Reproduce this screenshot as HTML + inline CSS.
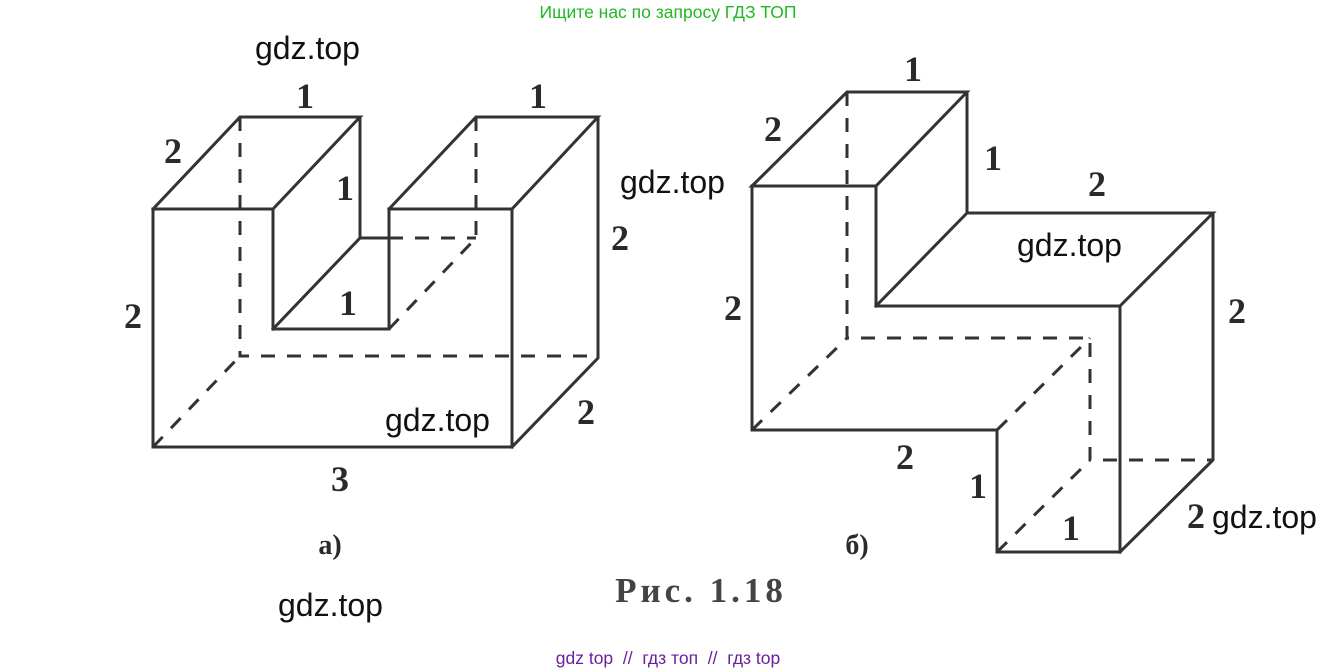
<!DOCTYPE html>
<html><head><meta charset="utf-8"><style>
body{margin:0;width:1337px;height:672px;background:#fff;overflow:hidden}
svg{position:absolute;left:0;top:0}
.n{font-family:"Liberation Serif",serif;font-weight:bold;font-size:36px;fill:#2a2a2a;text-anchor:middle}
.w{font-family:"Liberation Sans",sans-serif;font-size:32px;fill:#111}
</style></head><body>
<svg width="1337" height="672" viewBox="0 0 1337 672">
<text x="668" y="18" text-anchor="middle" style="font-family:'Liberation Sans',sans-serif;font-size:17.5px;fill:#22b822">Ищите нас по запросу ГДЗ ТОП</text>
<g stroke="#333" stroke-width="3" fill="none" stroke-linecap="square">
<path d="M153,447 L153,209 L273,209 L273,329 L389,329 L389,209 L512,209 L512,447 Z"/>
<path d="M153,209 L240,117 L360,117 L273,209 M360,117 L360,238 L389,238 M273,329 L360,238"/>
<path d="M389,209 L476,117 L598,117 L512,209 M598,117 L598,358 L512,447"/>
<path d="M752,186 L847,92 L967,92 L876,186 Z M752,186 L752,430 L997,430 L997,552 L1120,552 L1120,306 L876,306 L876,186"/>
<path d="M967,92 L967,213 L1213,213 L1120,306 M876,306 L967,213 M1213,213 L1213,460 L1120,552"/>
</g>
<g stroke="#333" stroke-width="3" fill="none" stroke-dasharray="14,12">
<path d="M240,117 L240,356 L598,356 M153,447 L240,356 M389,238 L476,238 M389,329 L476,238 M476,117 L476,238"/>
<path d="M847,92 L847,338 L1090,338 L1090,460 L1213,460 M752,430 L847,338 M997,430 L1090,338 M997,552 L1090,460"/>
</g>
<text class="n" x="305" y="108">1</text><text class="n" x="538" y="108">1</text>
<text class="n" x="173" y="163">2</text><text class="n" x="345" y="200">1</text>
<text class="n" x="620" y="250">2</text><text class="n" x="133" y="328">2</text>
<text class="n" x="348" y="315">1</text><text class="n" x="586" y="424">2</text>
<text class="n" x="340" y="491">3</text>
<text x="330" y="554" class="n" style="font-size:28px">а)</text>
<text class="n" x="913" y="81">1</text><text class="n" x="773" y="141">2</text>
<text class="n" x="993" y="170">1</text><text class="n" x="1097" y="196">2</text>
<text class="n" x="733" y="320">2</text><text class="n" x="1237" y="323">2</text>
<text class="n" x="905" y="469">2</text><text class="n" x="978" y="498">1</text>
<text class="n" x="1071" y="540">1</text><text class="n" x="1196" y="528">2</text>
<text x="857" y="554" class="n" style="font-size:28px">б)</text>
<text x="701" y="602" class="n" style="font-size:35px;fill:#444;letter-spacing:4px">Рис. 1.18</text>
<text class="w" x="255" y="59">gdz.top</text>
<text class="w" x="620" y="193">gdz.top</text>
<text class="w" x="385" y="431">gdz.top</text>
<text class="w" x="1017" y="256">gdz.top</text>
<text class="w" x="1212" y="528">gdz.top</text>
<text class="w" x="278" y="616">gdz.top</text>
<text x="668" y="664" text-anchor="middle" style="font-family:'Liberation Sans',sans-serif;font-size:17.5px;fill:#6a1fa0;white-space:pre">gdz top  //  гдз топ  //  гдз top</text>
</svg>
</body></html>
